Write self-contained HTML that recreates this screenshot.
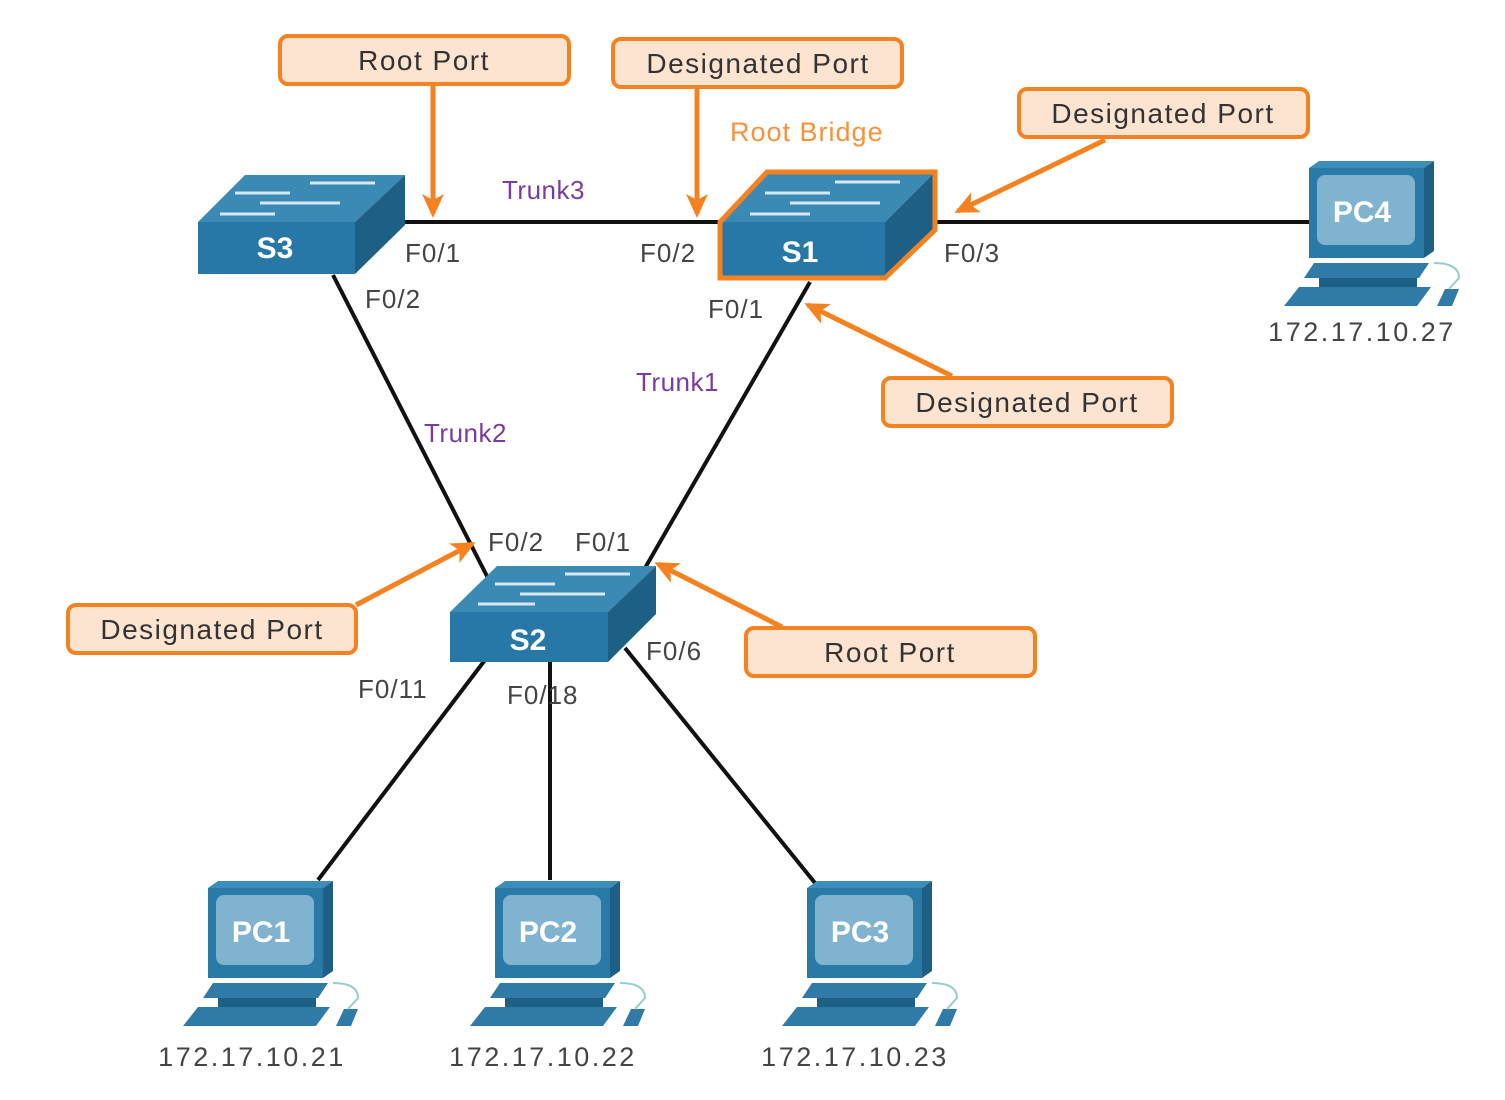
<!DOCTYPE html>
<html><head><style>
body{margin:0;background:#fff;}
svg{display:block;font-family:"Liberation Sans",sans-serif;}
.t{font-size:26px;fill:#444;letter-spacing:1px;}
.p{font-size:26px;fill:#7a3c9e;letter-spacing:0.5px;}
.c{font-size:28px;fill:#333;text-anchor:middle;letter-spacing:1.5px;}
.ip{font-size:27px;fill:#444;text-anchor:middle;letter-spacing:2.5px;}
</style></head><body>
<svg width="1505" height="1100" viewBox="0 0 1505 1100">
<defs>
<g id="pc">
<polygon points="0,5 10,-2 125,-2 115,5" fill="#3d8dba"/>
<rect x="0" y="5" width="115" height="90" fill="#2a7aa8"/>
<polygon points="115,5 125,-2 125,88 115,95" fill="#1d5f85"/>
<rect x="8" y="12" width="98" height="70" rx="8" fill="#80b3d0"/>
<polygon points="-5,115 5,100 120,100 110,115" fill="#2f7aa6"/>
<rect x="10" y="115" width="98" height="9" fill="#1d5f85"/>
<polygon points="-25,143 -10,124 122,124 108,143" fill="#2f7aa6"/>
<polygon points="128,143 136,126 150,126 143,143" fill="#2f7aa6"/>
<path d="M125,100 Q150,100 150,115 L140,126" stroke="#9cc" stroke-width="2" fill="none"/>
</g>
<marker id="ah" markerWidth="26" markerHeight="22" refX="20" refY="11" orient="auto" markerUnits="userSpaceOnUse" viewBox="0 0 26 22"><path d="M0,0 L24,11 L0,22 L6,11 z" fill="#f58220"/></marker>
</defs>
<g stroke="#111" stroke-width="4">
<line x1="400" y1="222" x2="725" y2="222"/>
<line x1="930" y1="222" x2="1312" y2="222"/>
<line x1="333" y1="275" x2="490" y2="582"/>
<line x1="810" y1="282" x2="645" y2="568"/>
<line x1="485" y1="660" x2="318" y2="880"/>
<line x1="550" y1="662" x2="550" y2="880"/>
<line x1="625" y1="648" x2="815" y2="883"/>
</g>
<!-- S3 -->
<polygon points="198,222 245,175 405,175 355,222" fill="#3a8ab5"/>
<rect x="198" y="222" width="157" height="52" fill="#2778a6"/>
<polygon points="355,222 405,175 405,225 355,274" fill="#1d5f85"/>
<g stroke="#d8e8f0" stroke-width="3"><line x1="310" y1="183" x2="375" y2="183"/><line x1="235" y1="193" x2="290" y2="193"/><line x1="260" y1="203" x2="340" y2="203"/><line x1="220" y1="214" x2="275" y2="214"/></g>
<text x="275" y="258" fill="#fff" font-weight="bold" font-size="30" text-anchor="middle">S3</text>
<!-- S1 -->
<polygon points="720,222 767,172 935,172 885,222" fill="#3a8ab5"/>
<rect x="720" y="222" width="165" height="56" fill="#2778a6"/>
<polygon points="885,222 935,172 935,230 885,278" fill="#1d5f85"/>
<polygon points="720,222 767,172 935,172 935,230 885,278 720,278" fill="none" stroke="#f58220" stroke-width="5"/>
<g stroke="#d8e8f0" stroke-width="3"><line x1="835" y1="182" x2="900" y2="182"/><line x1="765" y1="193" x2="830" y2="193"/><line x1="790" y1="203" x2="880" y2="203"/><line x1="750" y1="214" x2="810" y2="214"/></g>
<text x="800" y="262" fill="#fff" font-weight="bold" font-size="30" text-anchor="middle">S1</text>
<!-- S2 -->
<polygon points="450,612 497,566 656,566 608,612" fill="#3a8ab5"/>
<rect x="450" y="612" width="158" height="50" fill="#2778a6"/>
<polygon points="608,612 656,566 656,614 608,662" fill="#1d5f85"/>
<g stroke="#d8e8f0" stroke-width="3"><line x1="565" y1="574" x2="630" y2="574"/><line x1="495" y1="584" x2="555" y2="584"/><line x1="520" y1="594" x2="605" y2="594"/><line x1="478" y1="604" x2="535" y2="604"/></g>
<text x="528" y="650" fill="#fff" font-weight="bold" font-size="30" text-anchor="middle">S2</text>
<!-- PCs -->
<use href="#pc" x="208" y="883"/><text x="261" y="942" fill="#fff" font-weight="bold" font-size="30" text-anchor="middle">PC1</text>
<use href="#pc" x="495" y="883"/><text x="548" y="942" fill="#fff" font-weight="bold" font-size="30" text-anchor="middle">PC2</text>
<use href="#pc" x="807" y="883"/><text x="860" y="942" fill="#fff" font-weight="bold" font-size="30" text-anchor="middle">PC3</text>
<use href="#pc" x="1309" y="163"/><text x="1362" y="222" fill="#fff" font-weight="bold" font-size="30" text-anchor="middle">PC4</text>
<text class="ip" x="252" y="1066">172.17.10.21</text>
<text class="ip" x="543" y="1066">172.17.10.22</text>
<text class="ip" x="855" y="1066">172.17.10.23</text>
<text class="ip" x="1362" y="341">172.17.10.27</text>
<!-- port labels -->
<text class="t" x="405" y="262">F0/1</text>
<text class="t" x="640" y="262">F0/2</text>
<text class="t" x="944" y="262">F0/3</text>
<text class="t" x="365" y="308">F0/2</text>
<text class="t" x="708" y="318">F0/1</text>
<text class="t" x="488" y="551">F0/2</text>
<text class="t" x="575" y="551">F0/1</text>
<text class="t" x="646" y="660">F0/6</text>
<text class="t" x="358" y="698">F0/11</text>
<text class="t" x="507" y="704">F0/18</text>
<text class="p" x="502" y="199">Trunk3</text>
<text class="p" x="636" y="391">Trunk1</text>
<text class="p" x="424" y="442">Trunk2</text>
<text x="730" y="141" font-size="27" fill="#f7923a" letter-spacing="1">Root Bridge</text>
<!-- callouts -->
<g fill="#fde4d0" stroke="#f58220" stroke-width="4">
<rect x="280" y="36" width="289" height="48" rx="8"/>
<rect x="613" y="39" width="289" height="48" rx="8"/>
<rect x="1019" y="89" width="289" height="48" rx="8"/>
<rect x="883" y="378" width="289" height="48" rx="8"/>
<rect x="746" y="628" width="289" height="48" rx="8"/>
<rect x="68" y="605" width="288" height="48" rx="8"/>
</g>
<g stroke="#f58220" stroke-width="5" marker-end="url(#ah)">
<line x1="433" y1="86" x2="433" y2="214"/>
<line x1="697" y1="89" x2="697" y2="214"/>
<line x1="1105" y1="140" x2="958" y2="211"/>
<line x1="952" y1="376" x2="808" y2="305"/>
<line x1="782" y1="627" x2="658" y2="564"/>
<line x1="356" y1="605" x2="472" y2="544"/>
</g>
<g class="c">
<text x="424" y="70">Root Port</text>
<text x="758" y="73">Designated Port</text>
<text x="1163" y="123">Designated Port</text>
<text x="1027" y="412">Designated Port</text>
<text x="890" y="662">Root Port</text>
<text x="212" y="639">Designated Port</text>
</g>
</svg>
</body></html>
